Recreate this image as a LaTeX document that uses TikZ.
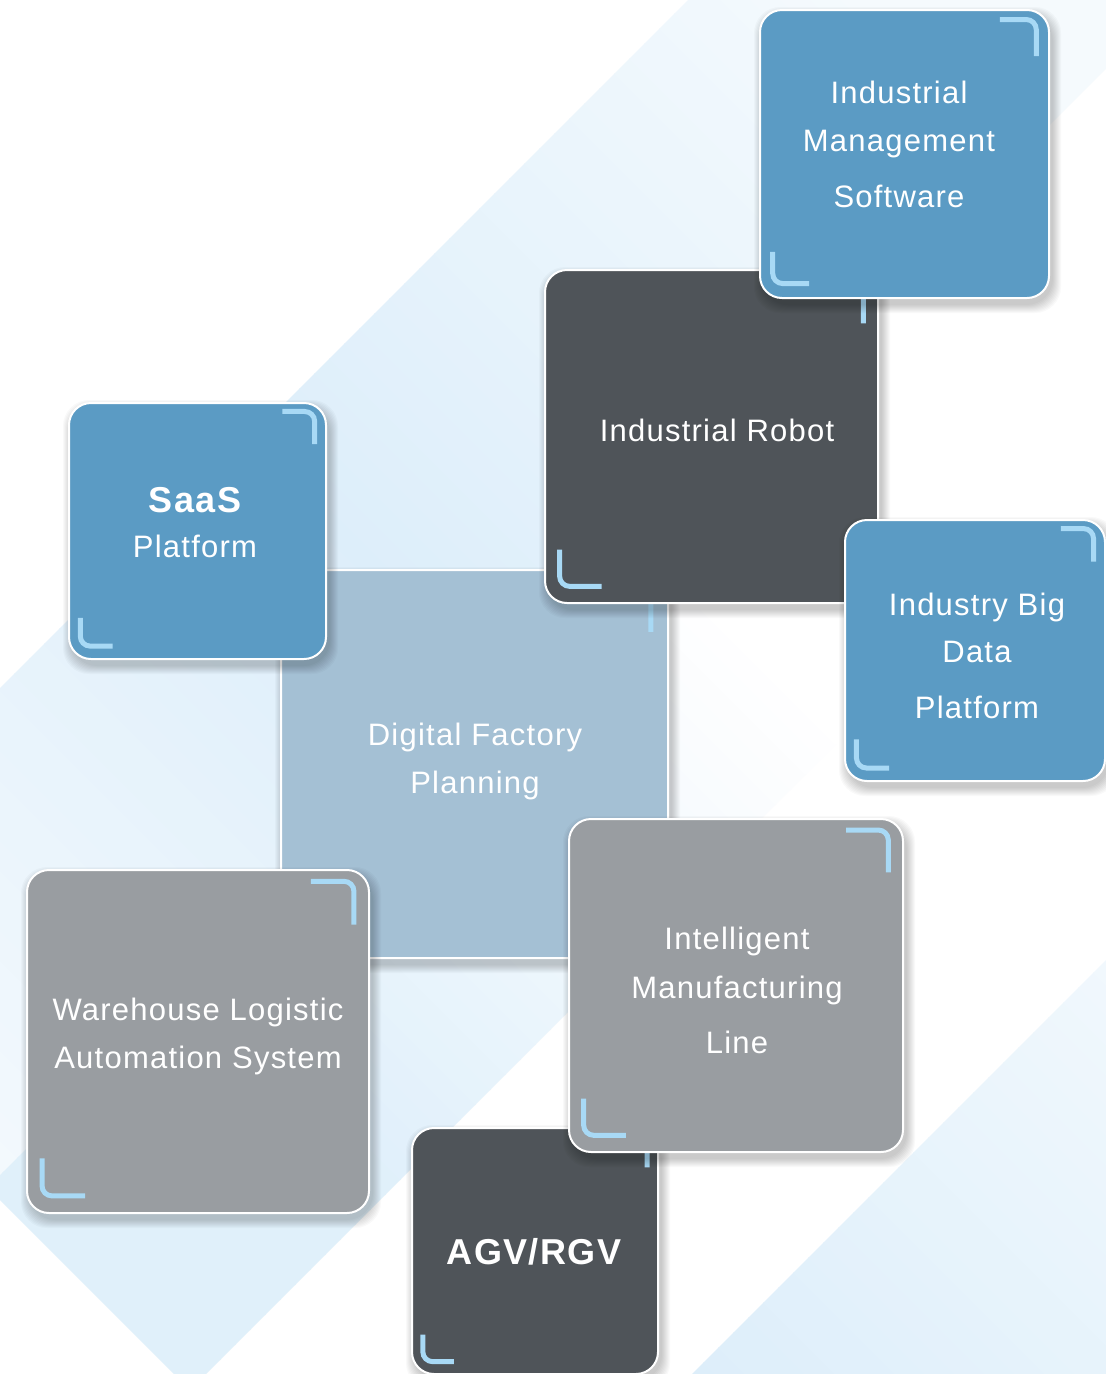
\documentclass[tikz,border=0pt]{standalone}
\usepackage{fontspec}
\setmainfont{Liberation Sans}
\newfontfamily\cardfont{Liberation Sans}[LetterSpace=4]
\usetikzlibrary{calc}
\definecolor{bandblue}{RGB}{221,238,250}
\definecolor{cardblue}{RGB}{91,155,196}
\definecolor{carddark}{RGB}{79,84,89}
\definecolor{cardgray}{RGB}{153,157,161}
\definecolor{cardpale}{RGB}{164,192,212}
\definecolor{brk}{RGB}{168,217,245}
\tikzset{
  card/.style={draw=white,line width=2pt,rounded corners=22pt,inner sep=0pt,outer sep=0pt},
  bracket/.style={draw=brk,line width=5pt,rounded corners=10pt},
  cardtext/.style={text=white,inner sep=0pt,anchor=base,font=\cardfont\fontsize{31}{36}\selectfont},
  cardbold/.style={text=white,inner sep=0pt,anchor=base,font=\cardfont\bfseries\fontsize{#1}{40}\selectfont},
}
% #1 name, #2 x0, #3 y0, #4 x1, #5 y1, #6 fill colour
\newcommand\mkcard[6]{%
  \foreach \k in {1,...,9}{%
    \fill[black,opacity=0.025,rounded corners=26pt] ({#2+3-\k},{#3+6-\k}) rectangle ({#4+3+\k},{#5+6+\k});
  }%
  \node[card,fill=#6,minimum width={#4-#2},minimum height={#5-#3}] (#1) at ({(#2+#4)/2},{(#3+#5)/2}) {};
  \pgfmathsetmacro\brkW{#4-#2}%
  \pgfmathsetmacro\brkIx{0.044*\brkW}%
  \pgfmathsetmacro\brkIy{0.033*\brkW}%
  \pgfmathsetmacro\brkIb{0.05*\brkW}%
  \pgfmathsetmacro\brkL{0.17*\brkW}%
  \pgfmathsetmacro\brkV{0.16*\brkW}%
  \draw[bracket] ($(#1.north east)+(-\brkL,\brkIy)$) -| ($(#1.north east)+(-\brkIx,\brkV)$);
  \draw[bracket] ($(#1.south west)+(\brkIx,-\brkV)$) |- ($(#1.south west)+(\brkL,-\brkIb)$);
}
\begin{document}
\begin{tikzpicture}[x=1pt,y=-1pt]
\useasboundingbox (0,0) rectangle (1106,1374);
\begin{scope}
\clip (0,0) rectangle (1106,1374);
\fill[white] (0,0) rectangle (1106,1374);
% band A
\foreach \tv in {-1200,-1170,...,1110}{
  \pgfmathsetmacro\pp{max(30,100-abs(\tv+215)/15)}
  \fill[bandblue!\pp!white] ({(688+\tv)/2},{(688-\tv)/2}) -- ({(1175+\tv)/2},{(1175-\tv)/2}) -- ({(1175+\tv+32)/2},{(1175-\tv-32)/2}) -- ({(688+\tv+32)/2},{(688-\tv-32)/2}) -- cycle;
}
% band B
\foreach \tv in {-1200,-1170,...,1050}{
  \pgfmathsetmacro\pp{min(90,max(0,(100-\tv)/10))}
  \fill[bandblue!\pp!white] ({(1175+\tv)/2},{(1175-\tv)/2}) -- ({(1580+\tv)/2},{(1580-\tv)/2}) -- ({(1580+\tv+32)/2},{(1580-\tv-32)/2}) -- ({(1175+\tv+32)/2},{(1175-\tv-32)/2}) -- cycle;
}
% band C
\foreach \tv in {-750,-720,...,180}{
  \pgfmathsetmacro\pp{min(100,max(40,100-(\tv+700)/14.2))}
  \fill[bandblue!\pp!white] ({(2066+\tv)/2},{(2066-\tv)/2}) -- ({(2600+\tv)/2},{(2600-\tv)/2}) -- ({(2600+\tv+32)/2},{(2600-\tv-32)/2}) -- ({(2066+\tv+32)/2},{(2066-\tv-32)/2}) -- cycle;
}
% Digital Factory Planning
\mkcard{dfp}{281}{570}{668}{958}{cardpale}
\node[cardtext] (dfp1) at (475,745) {Digital Factory};
\node[cardtext] (dfp2) at (475,793) {Planning};
% Industrial Robot
\mkcard{ir}{545}{270}{878}{603}{carddark}
\node[cardtext] (ir1) at (717,441) {Industrial Robot};
% Industrial Management Software
\mkcard{ims}{760}{10}{1049}{298}{cardblue}
\node[cardtext] (ims1) at (899,103) {Industrial};
\node[cardtext] (ims2) at (899,151) {Management};
\node[cardtext] (ims3) at (899,207) {Software};
% Industry Big Data Platform
\mkcard{ibd}{845}{520}{1105}{781}{cardblue}
\node[cardtext] (ibd1) at (977,615) {Industry Big};
\node[cardtext] (ibd2) at (977,662) {Data};
\node[cardtext] (ibd3) at (977,718) {Platform};
% SaaS Platform
\mkcard{saas}{69}{403}{326}{659}{cardblue}
\node[cardbold=36] (saas1) at (195,512) {SaaS};
\node[cardtext] (saas2) at (195,557) {Platform};
% Warehouse Logistic Automation System
\mkcard{wla}{27}{870}{369}{1213}{cardgray}
\node[cardtext] (wla1) at (198,1020) {Warehouse Logistic};
\node[cardtext] (wla2) at (198,1068) {Automation System};
% AGV/RGV
\mkcard{agv}{412}{1128}{658}{1374}{carddark}
\node[cardbold=36] (agv1) at (534,1264) {AGV/RGV};
% Intelligent Manufacturing Line
\mkcard{iml}{569}{819}{903}{1152}{cardgray}
\node[cardtext] (iml1) at (737,949) {Intelligent};
\node[cardtext] (iml2) at (737,998) {Manufacturing};
\node[cardtext] (iml3) at (737,1053) {Line};
\end{scope}
\end{tikzpicture}
\end{document}
